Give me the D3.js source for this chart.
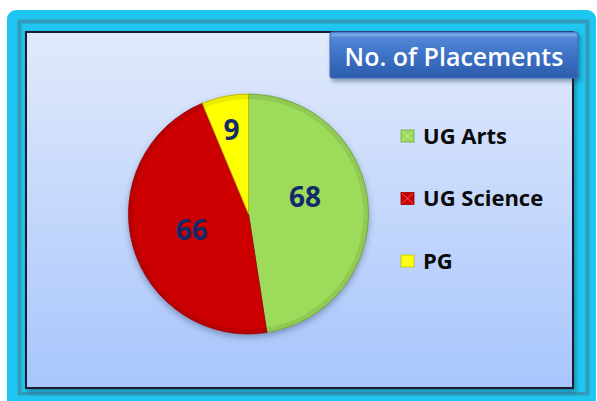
<!DOCTYPE html>
<html>
<head>
<meta charset="utf-8">
<script src="https://cdn.jsdelivr.net/npm/d3@7"></script>
<style>
html, body { margin: 0; padding: 0; background: #fff; overflow: hidden; }
</style>
</head>
<body>
<div id="chart"></div>
<script>
const categories = ["UG Arts", "UG Science", "PG"];
const values = [68, 66, 9];
const sliceColors = ["#9ddc5a", "#cc0000", "#ffff00"];
const chartTitle = "No. of Placements";

const WIDTH = 597;
const HEIGHT = 401;
const FONT = "'Open Sans', 'Liberation Sans', sans-serif";

const svg = d3.select("#chart").append("svg")
    .attr("width", WIDTH)
    .attr("height", HEIGHT)
    .attr("viewBox", `0 0 ${WIDTH} ${HEIGHT}`);

const defs = svg.append("defs");

const panelGrad = defs.append("linearGradient")
    .attr("id", "panelGrad").attr("x1", 0).attr("y1", 0).attr("x2", 0).attr("y2", 1);
panelGrad.append("stop").attr("offset", "0%").attr("stop-color", "#e1eafb");
panelGrad.append("stop").attr("offset", "100%").attr("stop-color", "#a8c5fc");

const titleGrad = defs.append("linearGradient")
    .attr("id", "titleGrad").attr("x1", 0).attr("y1", 0).attr("x2", 0).attr("y2", 1);
titleGrad.append("stop").attr("offset", "0%").attr("stop-color", "#5b8fdc");
titleGrad.append("stop").attr("offset", "45%").attr("stop-color", "#3f74c8");
titleGrad.append("stop").attr("offset", "100%").attr("stop-color", "#2c5cac");

const shadow = defs.append("filter").attr("id", "shadow")
    .attr("x", "-10%").attr("y", "-10%").attr("width", "130%").attr("height", "130%");
shadow.append("feDropShadow")
    .attr("dx", 2).attr("dy", 3).attr("stdDeviation", 2)
    .attr("flood-color", "#1b3a55").attr("flood-opacity", 0.45);

const softShadow = defs.append("filter").attr("id", "softShadow")
    .attr("x", "-20%").attr("y", "-20%").attr("width", "140%").attr("height", "140%");
softShadow.append("feDropShadow")
    .attr("dx", 0).attr("dy", 3).attr("stdDeviation", 3)
    .attr("flood-color", "#3a4a6a").attr("flood-opacity", 0.45);

// outer frame
svg.append("rect")
    .attr("x", 7).attr("y", 10)
    .attr("width", 589).attr("height", 400)
    .attr("rx", 9)
    .attr("fill", "#1fc6ef");

svg.append("rect")
    .attr("x", 19.5).attr("y", 21.5)
    .attr("width", 568).attr("height", 372)
    .attr("fill", "none")
    .attr("stroke", "#3396b2")
    .attr("stroke-width", 4)
    .attr("opacity", 0.9);

svg.append("rect")
    .attr("x", 23).attr("y", 24)
    .attr("width", 562).attr("height", 368)
    .attr("fill", "#1fc6ef");

// plot panel
svg.append("rect")
    .attr("x", 26).attr("y", 32)
    .attr("width", 547).attr("height", 356)
    .attr("fill", "url(#panelGrad)")
    .attr("stroke", "#1b1f2e")
    .attr("stroke-width", 2)
    .attr("filter", "url(#shadow)");

// pie
const cx = 248.5, cy = 214, radius = 120;

const data = categories.map((c, i) => ({ category: c, value: values[i], color: sliceColors[i] }));

const pie = d3.pie().sort(null).value(d => d.value);
const arcs = pie(data);

const arc = d3.arc().innerRadius(0).outerRadius(radius);
const rim = d3.arc().innerRadius(radius - 5).outerRadius(radius);

const pieG = svg.append("g")
    .attr("transform", `translate(${cx},${cy})`);

const slices = pieG.append("g").attr("filter", "url(#softShadow)");

slices.selectAll("path.slice")
    .data(arcs)
    .join("path")
    .attr("class", "slice")
    .attr("d", arc)
    .attr("fill", d => d.data.color)
    .attr("stroke", d => d3.color(d.data.color).darker(0.9))
    .attr("stroke-width", 0.8);

// soft bevel on the rim
pieG.selectAll("path.rim")
    .data(arcs)
    .join("path")
    .attr("class", "rim")
    .attr("d", rim)
    .attr("fill", "#000")
    .attr("opacity", 0.08);

// value labels
const labelArc = d => {
    const small = (d.endAngle - d.startAngle) < 0.6;
    const r = small ? 86 : 59;
    return d3.arc().innerRadius(r).outerRadius(r);
};
// nudge the big right slice label upward like the original's best-fit placement
const labelAngleShift = { "UG Arts": -0.21 };

pieG.selectAll("text.value")
    .data(arcs)
    .join("text")
    .attr("class", "value")
    .attr("transform", d => {
        const shift = labelAngleShift[d.data.category] || 0;
        const p = labelArc(d).centroid({ startAngle: d.startAngle + shift, endAngle: d.endAngle + shift });
        return `translate(${p[0]},${p[1]})`;
    })
    .attr("text-anchor", "middle")
    .attr("dy", "0.36em")
    .attr("font-family", FONT)
    .attr("font-weight", 700)
    .attr("font-size", 28)
    .attr("fill", "#142a6a")
    .text(d => d.data.value);

// legend
const legendY = d3.scalePoint()
    .domain(categories)
    .range([136, 261]);

const legend = svg.append("g");

const items = legend.selectAll("g.item")
    .data(data)
    .join("g")
    .attr("class", "item")
    .attr("transform", d => `translate(401,${legendY(d.category)})`);

items.append("rect")
    .attr("x", 0).attr("y", -6)
    .attr("width", 13).attr("height", 12)
    .attr("fill", d => d.color)
    .attr("stroke", d => d3.color(d.color).darker(0.8))
    .attr("stroke-width", 0.8);

items.append("path")
    .attr("d", "M1,-5L12,5M12,-5L1,5")
    .attr("stroke", "#fff")
    .attr("stroke-opacity", 0.35)
    .attr("stroke-width", 1);

items.append("text")
    .attr("x", 22)
    .attr("y", 0)
    .attr("dy", "0.36em")
    .attr("font-family", FONT)
    .attr("font-weight", 700)
    .attr("font-size", 22)
    .attr("fill", "#0a0a0a")
    .text(d => d.category);

// title box
const titleG = svg.append("g");
titleG.append("rect")
    .attr("x", 330).attr("y", 32)
    .attr("width", 248).attr("height", 46)
    .attr("rx", 2)
    .attr("fill", "url(#titleGrad)")
    .attr("stroke", "#3a6cb8")
    .attr("stroke-width", 1)
    .attr("filter", "url(#shadow)");

titleG.append("rect")
    .attr("x", 331.5).attr("y", 33.5)
    .attr("width", 245).attr("height", 3)
    .attr("fill", "#8db4ec")
    .attr("opacity", 0.6);

titleG.append("text")
    .attr("x", 454)
    .attr("y", 66)
    .attr("text-anchor", "middle")
    .attr("font-family", FONT)
    .attr("font-weight", 600)
    .attr("font-size", 25)
    .attr("fill", "#ffffff")
    .text(chartTitle);
</script>
</body>
</html>
